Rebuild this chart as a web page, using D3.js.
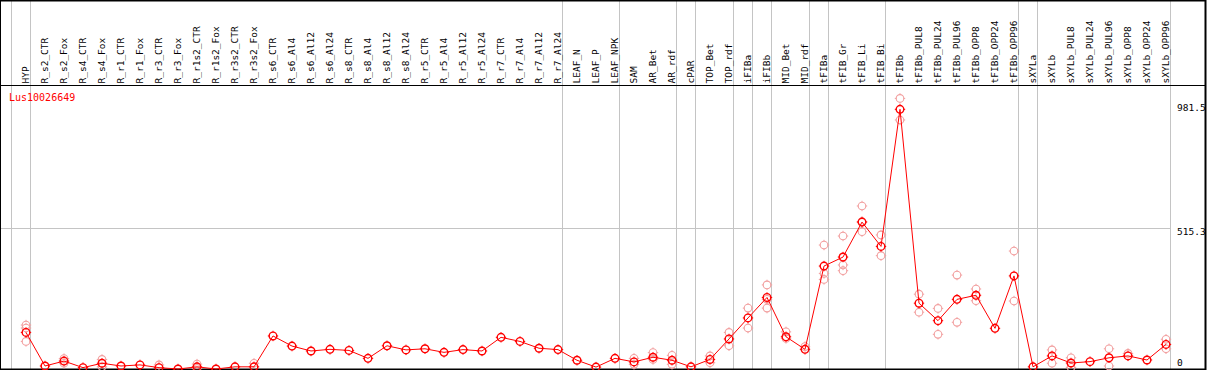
<!DOCTYPE html>
<html>
<head>
<meta charset="utf-8">
<script src="https://cdn.jsdelivr.net/npm/d3@7"></script>
<style>
  body { margin: 0; background: #fff; }
  text { font-family: "DejaVu Sans Mono", monospace; font-size: 9.5px; }
</style>
</head>
<body>
<svg id="chart" width="1209" height="370"></svg>
<script>
var samples = ['HYP', 'R_s2_CTR', 'R_s2_Fox', 'R_s4_CTR', 'R_s4_Fox', 'R_r1_CTR', 'R_r1_Fox',
  'R_r3_CTR', 'R_r3_Fox', 'R_r1s2_CTR', 'R_r1s2_Fox', 'R_r3s2_CTR', 'R_r3s2_Fox',
  'R_s6_CTR', 'R_s6_Al4', 'R_s6_Al12', 'R_s6_Al24', 'R_s8_CTR', 'R_s8_Al4', 'R_s8_Al12', 'R_s8_Al24',
  'R_r5_CTR', 'R_r5_Al4', 'R_r5_Al12', 'R_r5_Al24', 'R_r7_CTR', 'R_r7_Al4', 'R_r7_Al12', 'R_r7_Al24',
  'LEAF_N', 'LEAF_P', 'LEAF_NPK', 'SAM', 'AR_Bet', 'AR_rdf', 'cPAR', 'TOP_Bet', 'TOP_rdf',
  'iFIBa', 'iFIBb', 'MID_Bet', 'MID_rdf', 'tFIBa', 'tFIB_Gr', 'tFIB_Li', 'tFIB_Bi', 'tFIBb',
  'tFIBb_PUL8', 'tFIBb_PUL24', 'tFIBb_PUL96', 'tFIBb_OPP8', 'tFIBb_OPP24', 'tFIBb_OPP96',
  'sXYLa', 'sXYLb', 'sXYLb_PUL8', 'sXYLb_PUL24', 'sXYLb_PUL96', 'sXYLb_OPP8', 'sXYLb_OPP24', 'sXYLb_OPP96']

var means = [134, 11, 29, 5, 21, 11, 15, 5, 0, 8, 0, 8, 8,
  121, 84, 66, 72, 68, 39, 85, 70, 74, 61, 71, 66, 116, 101, 76, 71,
  32, 7, 39, 26, 43, 32, 8, 35, 110, 187, 262, 118, 72,
  377, 410, 538, 449, 951, 241, 177, 255, 270, 149, 341,
  8, 48, 22, 27, 41, 48, 33, 90]

var replicates = [[161, 150, 101], [], [38, 21], [], [35, 8], [], [], [15], [], [18, 2], [], [], [21],
  [], [], [], [], [], [], [], [], [], [], [], [], [], [], [], [],
  [], [], [], [39, 17], [60, 35], [50, 17], [], [48, 23], [134, 85], [223, 150], [308, 255, 223], [136, 112], [82],
  [454, 350, 328], [487, 381, 360], [597, 540, 503], [491, 415], [991, 912], [274, 208], [222, 127], [344, 171],
  [293, 250], [], [432, 249],
  [], [70, 21], [41, 6], [], [74, 11], [57], [], [109, 74]]

// last sample of each group (-1 = left edge)
var groupEnds = [-1, 0, 28, 31, 34, 35, 37, 38, 39, 41, 42, 45, 52, 53, 60]
var yTicks = [0, 515.3, 981.5]
var geneName = 'Lus10026649'

var svg = d3.select('#chart')
var W = +svg.attr('width'), H = +svg.attr('height')
var headerBottom = 85.5, plotBottom = 369.5, rightEdge = 1205.5

var x = d3.scaleLinear().domain([0, samples.length - 1]).range([26, 26 + 19 * (samples.length - 1)])
var y = d3.scaleLinear().domain([0, 981.5]).range([369, 101])

// gridline
svg.append('line')
  .attr('x1', 0).attr('x2', x(groupEnds[groupEnds.length - 1]) + 4.5)
  .attr('y1', Math.round(y(515.3)) + 0.5).attr('y2', Math.round(y(515.3)) + 0.5)
  .attr('stroke', '#c4c4c4')

// group separators
svg.selectAll('line.sep').data(groupEnds).enter().append('line')
  .attr('class', 'sep')
  .attr('x1', function(d) { return Math.round(x(d) + 4) + 0.5 })
  .attr('x2', function(d) { return Math.round(x(d) + 4) + 0.5 })
  .attr('y1', 0).attr('y2', plotBottom)
  .attr('stroke', '#c4c4c4')

// frame
svg.append('line').attr('x1', 0).attr('x2', rightEdge).attr('y1', 0.5).attr('y2', 0.5).attr('stroke', '#000').attr('stroke-width', 2)
svg.append('line').attr('x1', 0).attr('x2', rightEdge).attr('y1', headerBottom).attr('y2', headerBottom).attr('stroke', '#000')
svg.append('line').attr('x1', 0).attr('x2', rightEdge).attr('y1', plotBottom).attr('y2', plotBottom).attr('stroke', '#000').attr('stroke-width', 2)
svg.append('line').attr('x1', 0.5).attr('x2', 0.5).attr('y1', 0).attr('y2', H).attr('stroke', '#000')
svg.append('line').attr('x1', rightEdge).attr('x2', rightEdge).attr('y1', 0).attr('y2', H).attr('stroke', '#000').attr('stroke-width', 2)

// column labels
svg.selectAll('text.col').data(samples).enter().append('text')
  .attr('class', 'col')
  .attr('transform', function(d, i) { return 'translate(' + x(i) + ',83.5) rotate(-90)' })
  .attr('dy', '0.35em')
  .text(function(d) { return d })

// y labels on the right
svg.selectAll('text.ytick').data(yTicks).enter().append('text')
  .attr('class', 'ytick')
  .attr('x', 1177)
  .attr('y', function(d) { return Math.max(104, Math.min(359, y(d))) })
  .attr('dy', '0.74em')
  .text(function(d) { return d })

svg.append('text').attr('x', 9).attr('y', 100.5).attr('fill', '#ff0000')
  .style('font-size', '10px').text(geneName)

function marker(g, cx, cy, color, sw) {
  g.append('circle').attr('cx', cx).attr('cy', cy).attr('r', 3.8)
    .attr('fill', 'none').attr('stroke', color).attr('stroke-width', sw)
  g.append('path')
    .attr('d', 'M' + cx + ',' + (cy - 5.2) + 'v1.6M' + cx + ',' + (cy + 3.6) + 'v1.6' +
               'M' + (cx - 5.2) + ',' + cy + 'h1.6M' + (cx + 3.6) + ',' + cy + 'h1.6')
    .attr('stroke', color).attr('stroke-width', 1)
}

// replicates
var repLayer = svg.append('g')
replicates.forEach(function(vals, i) {
  vals.forEach(function(v) { marker(repLayer, x(i), y(v), '#f2a0a0', 1.1) })
})

// mean line
var line = d3.line().x(function(d, i) { return x(i) }).y(function(d) { return y(d) })
svg.append('path').datum(means).attr('d', line)
  .attr('fill', 'none').attr('stroke', '#ff0000').attr('stroke-width', 1)

var meanLayer = svg.append('g')
means.forEach(function(v, i) { marker(meanLayer, x(i), y(v), '#ff0000', 1.4) })
</script>
</body>
</html>
